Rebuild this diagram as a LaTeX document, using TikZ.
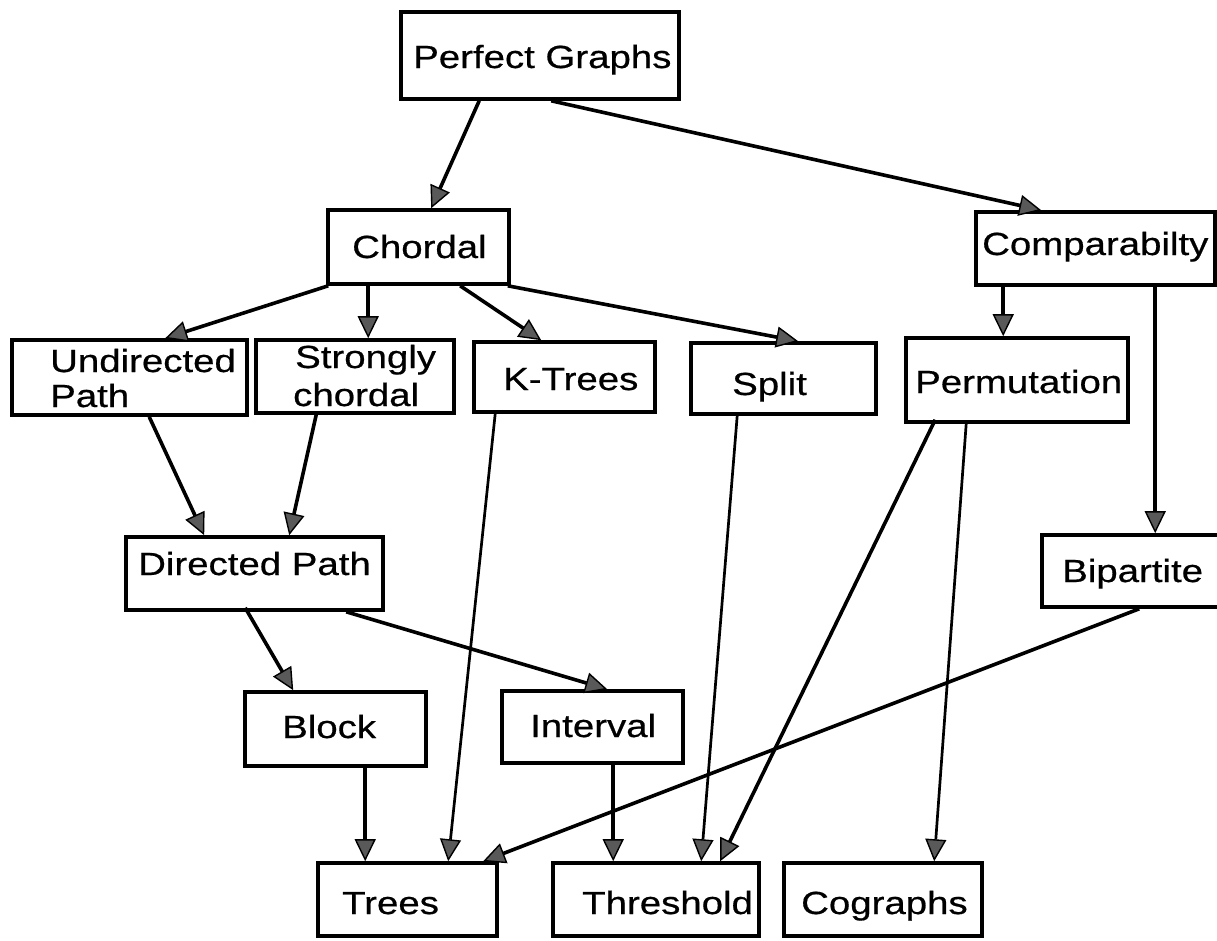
\documentclass[tikz,border=0pt]{standalone}
\usepackage{fontspec}
\setmainfont[FakeStretch=1.2,FakeBold=0.6]{Liberation Sans}
\usetikzlibrary{arrows.meta,fit}
\begin{document}
\begin{tikzpicture}[x=1pt,y=-1pt,
  box/.style={draw=black,line width=3.6pt,inner sep=0pt,rectangle},
  lbl/.style={anchor=base west,inner sep=0pt,font=\fontsize{32}{36}\selectfont},
  arr/.style={line width=3.6pt,-{Triangle[length=22pt,width=21pt,fill=black!65,line width=1.4pt]}},
  thin/.style={line width=2.7pt}]
\clip (0,0) rectangle (1217,940);
\fill[white] (0,0) rectangle (1217,940);
% boxes
\node[box,fit={(401,12) (679,99)}] (pg) {};
\node[box,fit={(328,210) (509,284)}] (ch) {};
\node[box,fit={(976,212) (1215,285)}] (cp) {};
\node[box,fit={(12,340) (247,415)}] (up) {};
\node[box,fit={(256,340) (454,413)}] (sc) {};
\node[box,fit={(474,342) (655,412)}] (kt) {};
\node[box,fit={(691,343) (876,414)}] (sp) {};
\node[box,fit={(906,338) (1128,422)}] (pm) {};
\node[box,fit={(126,537) (383,610)}] (dp) {};
\node[box,fit={(1042,535) (1235,607)}] (bp) {};
\node[box,fit={(245,692) (426,766)}] (bl) {};
\node[box,fit={(502,691) (683,763)}] (iv) {};
\node[box,fit={(318,863) (497,936)}] (tr) {};
\node[box,fit={(553,863) (759,936)}] (th) {};
\node[box,fit={(784,863) (982,936)}] (cg) {};
% labels
\node[lbl] (tpg) at (413,68) {Perfect Graphs};
\node[lbl] (tch) at (352,258) {Chordal};
\node[lbl] (tcp) at (982,255) {Comparabilty};
\node[lbl] (tup1) at (50,372) {Undirected};
\node[lbl] (tup2) at (50,407) {Path};
\node[lbl] (tsc1) at (295,368) {Strongly};
\node[lbl] (tsc2) at (293,406) {chordal};
\node[lbl] (tkt) at (503,390) {K-Trees};
\node[lbl] (tsp) at (732,395) {Split};
\node[lbl] (tpm) at (915,393) {Permutation};
\node[lbl] (tdp) at (138,575) {Directed Path};
\node[lbl] (tbp) at (1062,582) {Bipartite};
\node[lbl] (tbl) at (282,738) {Block};
\node[lbl] (tiv) at (530,737) {Interval};
\node[lbl] (ttr) at (342,914) {Trees};
\node[lbl] (tth) at (582,914) {Threshold};
\node[lbl] (tcg) at (801,914) {Cographs};
% connectors
\draw[arr] ([xshift=80]pg.south west) -- ([xshift=105]ch.north west);
\draw[arr] ([xshift=152]pg.south west) -- ([xshift=67]cp.north west);
\draw[arr] ([xshift=2]ch.south west) -- ([xshift=155]up.north west);
\draw[arr] ([xshift=42]ch.south west) -- ([xshift=114]sc.north west);
\draw[arr] ([xshift=134]ch.south west) -- ([xshift=69]kt.north west);
\draw[arr] ([xshift=-3]ch.south east) -- ([xshift=109]sp.north west);
\draw[arr] ([xshift=29]cp.south west) -- ([xshift=99]pm.north west);
\draw[arr] ([xshift=181]cp.south west) -- ([xshift=115]bp.north west);
\draw[arr] ([xshift=139]up.south west) -- ([xshift=80]dp.north west);
\draw[arr] ([xshift=62]sc.south west) -- ([xshift=165]dp.north west);
\draw[arr,thin] ([xshift=23]kt.south west) -- ([xshift=132]tr.north west);
\draw[arr,thin] ([xshift=48]sp.south west) -- ([xshift=150]th.north west);
\draw[arr] ([xshift=31,yshift=4]pm.south west) -- ([xshift=169]th.north west);
\draw[arr,thin] ([xshift=62]pm.south west) -- ([xshift=152]cg.north west);
\draw[arr] ([xshift=121,yshift=4]dp.south west) -- ([xshift=50]bl.north west);
\draw[arr] ([xshift=222]dp.south west) -- ([xshift=107]iv.north west);
\draw[arr] ([xshift=99]bp.south west) -- ([xshift=167]tr.north west);
\draw[arr] ([xshift=122]bl.south west) -- ([xshift=49]tr.north west);
\draw[arr] ([xshift=113]iv.south west) -- ([xshift=62]th.north west);
\end{tikzpicture}
\end{document}
